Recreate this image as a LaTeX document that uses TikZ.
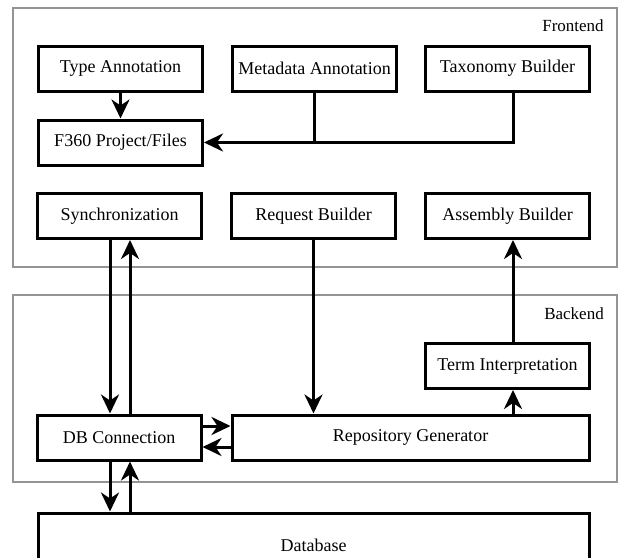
\documentclass[tikz,border=0pt]{standalone}
\usepackage{fontspec}
\setmainfont{Liberation Serif}
\usetikzlibrary{arrows.meta,calc}
\begin{document}
\begin{tikzpicture}[x=1pt,y=-1pt,
  box/.style={draw=black,line width=3pt,rectangle,minimum width=164pt,minimum height=45pt,inner sep=0pt,
    font=\fontsize{18}{21}\selectfont,fill=white},
  group/.style={draw=black!42,line width=2.5pt},
  grouplabel/.style={font=\fontsize{17}{20}\selectfont,anchor=center},
  link/.style={line width=3pt,draw=black},
  arr/.style={link,-{Stealth[length=19pt,width=18pt,inset=6pt]}}]
\useasboundingbox (0,0) rectangle (620,557);
% containers
\draw[group] (13,8) rectangle (617,267);
\draw[group] (13,295) rectangle (617,482);
\node[grouplabel] (fe) at (573,26) {Frontend};
\node[grouplabel] (be) at (574,314) {Backend};
% boxes
\node[box] (ta) at (120.5,68.5) {Type Annotation};
\node[box] (ma) at (314.5,68.5) {Metadata Annotation};
\node[box] (tb) at (507.5,68.5) {Taxonomy Builder};
\node[box] (f360) at (120.5,142.5) {F360 Project/Files};
\node[box] (sync) at (119.5,216) {Synchronization};
\node[box] (rb) at (313.5,216) {Request Builder};
\node[box] (ab) at (507.5,216) {Assembly Builder};
\node[box] (ti) at (507.5,366) {Term Interpretation};
\node[box,minimum width=357pt] (rg) at (410.5,437.5) {Repository Generator};
\node[box] (db) at (119,437.5) {DB Connection};
\begin{scope}
\clip (0,0) rectangle (620,557);
\node[box,minimum width=551pt,minimum height=64pt] (dbase) at (313.5,545) {Database};
\end{scope}
% connectors
\draw[arr] (ta) -- (f360);
\draw[arr] (ma.south) |- (f360.east);
\draw[link] ([xshift=5.5pt]tb.south) |- (ma.south |- f360.east);
\draw[arr] ([xshift=-9.5pt]sync.south) -- ([xshift=-9.5pt]sync.south |- db.north);
\draw[arr] ([xshift=10.5pt]sync.south |- db.north) -- ([xshift=10.5pt]sync.south);
\draw[arr] (rb.south) -- (rb.south |- rg.north);
\draw[arr] ([xshift=5.5pt]ti.south |- rg.north) -- ([xshift=5.5pt]ti.south);
\draw[arr] ([xshift=5.5pt]ti.north) -- ([xshift=5.5pt]ab.south);
\draw[arr] ([yshift=11.5pt]db.east) -- ([yshift=11.5pt]db.east -| rg.west);
\draw[arr] ([yshift=-9.5pt]rg.west) -- ([yshift=-9.5pt]rg.west -| db.east);
\draw[arr] ([xshift=-9pt]db.south) -- ([xshift=-9pt]db.south |- dbase.north);
\draw[arr] ([xshift=11pt]db.south |- dbase.north) -- ([xshift=11pt]db.south);
\end{tikzpicture}
\end{document}
